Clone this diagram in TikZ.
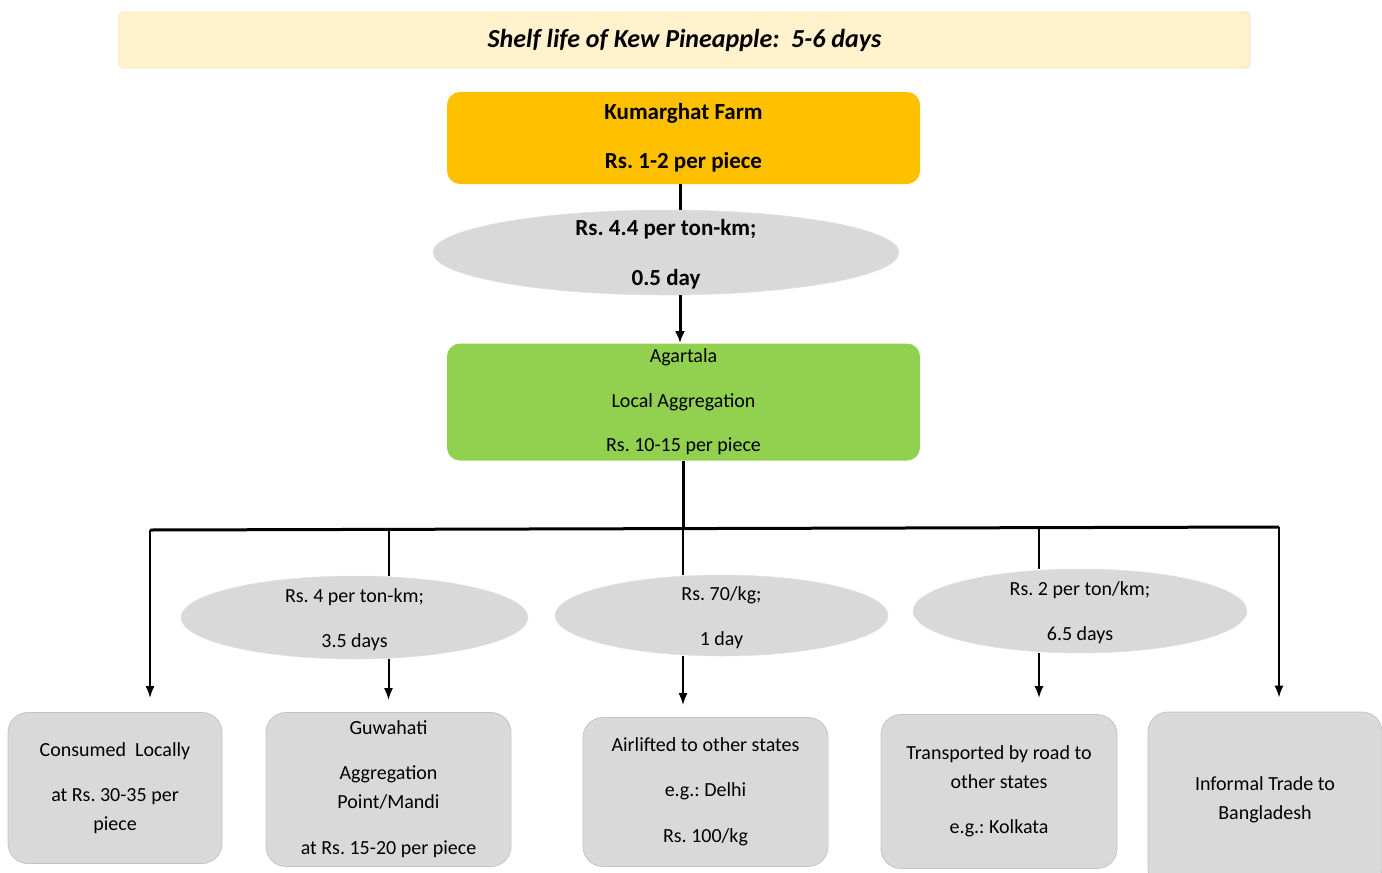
\documentclass[tikz,border=0pt]{standalone}
\usepackage{fontspec}
\setmainfont{Carlito}
\usetikzlibrary{shapes.geometric,arrows.meta}
\frenchspacing

\definecolor{bannerfill}{HTML}{FFF2CC}
\definecolor{bannerline}{HTML}{EFE3C0}
\definecolor{farmfill}{HTML}{FFC000}
\definecolor{aggfill}{HTML}{92D050}
\definecolor{greyfill}{HTML}{D9D9D9}
\definecolor{greyline}{HTML}{C4C4C4}

\begin{document}
\begin{tikzpicture}[x=1pt,y=-1pt,thick,every text node part/.style={align=center},
    box/.style={rectangle,rounded corners=20pt,fill=greyfill,draw=greyline,line width=0.8pt,inner sep=2pt,font=\fontsize{20}{29}\selectfont},
    cost/.style={ellipse,fill=greyfill,draw=greyline!50,line width=0.5pt,inner sep=0pt},
    costtext/.style={align=center,yshift=-2pt,font=\fontsize{20}{45}\selectfont},
    link/.style={line width=3pt},
    branch/.style={line width=2pt},
    flow/.style={line width=2pt,-{Latex[length=12pt,width=9pt]}}]

    \useasboundingbox (0,0) rectangle (1382,873);

    % --------------------------------------------------------- %
    % ------------- title banner
    % --------------------------------------------------------- %
    \node[fill=bannerfill,draw=bannerline,rounded corners=4pt,minimum width=1131pt,minimum height=56pt,font=\fontsize{26}{29}\selectfont\bfseries\itshape] (shelf) at (684.5,40) {Shelf life of Kew Pineapple:~ 5-6 days};

    % --------------------------------------------------------- %
    % ------------- farm and local aggregation
    % --------------------------------------------------------- %
    \node[fill=farmfill,rounded corners=13pt,minimum width=473pt,minimum height=92pt,font=\fontsize{23}{49}\selectfont\bfseries] (farm) at (683.5,138) {Kumarghat Farm\\Rs. 1-2 per piece};

    \node[cost,minimum width=466pt,minimum height=85pt,label={[costtext,font=\fontsize{23}{50}\selectfont\bfseries]center:{Rs. 4.4 per ton-km;\\0.5 day}}] (road1) at (666,252.5) {};

    \node[fill=aggfill,rounded corners=13pt,minimum width=473pt,minimum height=117pt,font=\fontsize{20}{44.5}\selectfont] (agartala) at (683.5,402) {Agartala\\Local Aggregation\\Rs. 10-15 per piece};

    \coordinate (stem) at (680,0);
    \draw[link] (farm.south -| stem) -- (road1.north -| stem);
    \draw[link,-{Latex[length=12pt,width=10pt]}] (road1.south -| stem) -- (agartala.north -| stem);

    % --------------------------------------------------------- %
    % ------------- transport costs to markets
    % --------------------------------------------------------- %
    \node[cost,minimum width=347pt,minimum height=83pt,label={[costtext]center:{Rs. 4 per ton-km;\\3.5 days}}] (road2) at (354.5,617.5) {};
    \node[cost,minimum width=333pt,minimum height=81pt,label={[costtext]center:{Rs. 70/kg;\\1 day}}] (air) at (721.5,615.5) {};
    \node[cost,minimum width=334pt,minimum height=84pt,label={[costtext]center:{Rs. 2 per ton/km;\\6.5 days}}] (road3) at (1080,611) {};

    % --------------------------------------------------------- %
    % ------------- final markets
    % --------------------------------------------------------- %
    \node[box,minimum width=214pt,minimum height=151pt] (local) at (115,788) {Consumed~ Locally\\[16pt]at Rs. 30-35 per\\piece};
    \node[box,minimum width=245pt,minimum height=154pt] (guwahati) at (388.5,789.5) {Guwahati\\[16pt]Aggregation\\Point/Mandi\\[17pt]at Rs. 15-20 per piece};
    \node[box,minimum width=245pt,minimum height=149pt] (states) at (705.5,792) {Airlifted to other states\\[16pt]e.g.: Delhi\\[17pt]Rs. 100/kg};
    \node[box,minimum width=236pt,minimum height=154pt] (kolkata) at (999,791.5) {Transported by road to\\other states\\[16pt]e.g.: Kolkata};
    \node[box,minimum width=234pt,minimum height=176pt] (bangladesh) at (1265,800) {Informal Trade to\\Bangladesh};

    % --------------------------------------------------------- %
    % ------------- distribution bar and arrows
    % --------------------------------------------------------- %
    \coordinate (trunk) at (683,529);
    \coordinate (bar-l) at (150,530);
    \coordinate (bar-r) at (1279,527);
    \coordinate (tap4) at (1039,528);

    \draw[link] (agartala.south -| trunk) -- (trunk);
    \draw[link] (bar-l) -- (bar-r);

    \draw[flow,shorten >=14pt] (bar-l) -- (bar-l |- local.north);

    \draw[branch] (trunk -| guwahati) -- (road2.north -| guwahati);
    \draw[flow,shorten >=12pt] (road2.south -| guwahati) -- (guwahati.north);

    \draw[branch] (trunk) -- (air.north -| trunk);
    \draw[flow,shorten >=12pt] (air.south -| trunk) -- (states.north -| trunk);

    \draw[branch] (tap4) -- (road3.north -| tap4);
    \draw[flow,shorten >=16pt] (road3.south -| tap4) -- (kolkata.north -| tap4);

    \draw[flow,shorten >=14pt] (bar-r) -- (bar-r |- bangladesh.north);

  \end{tikzpicture}
\end{document}
